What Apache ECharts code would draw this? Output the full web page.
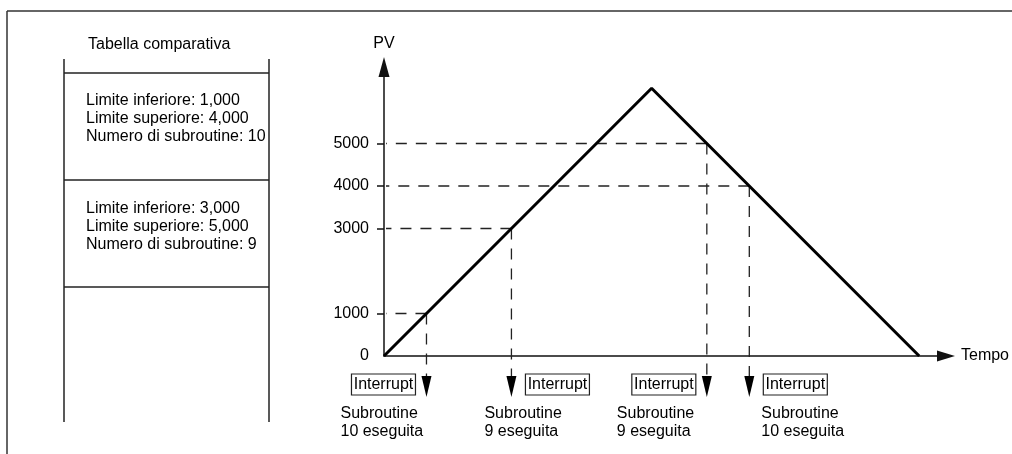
<!DOCTYPE html>
<html>
<head>
<meta charset="utf-8">
<script src="https://cdn.jsdelivr.net/npm/echarts@6/dist/echarts.min.js"></script>
<style>
  html, body { margin: 0; padding: 0; background: #fff; }
  #chart { width: 1012px; height: 454px; }
</style>
</head>
<body>
<div id="chart"></div>
<script>
// PV ramp: rises linearly, then falls back to zero
const rampTime = [0, 50, 100];
const rampPV = [0, 6300, 0];

// PV axis tick values
const pvTicks = [0, 1000, 3000, 4000, 5000];

// Comparison table rows
const lowerLimits = [1000, 3000];
const upperLimits = [4000, 5000];
const subroutineNumbers = [10, 9];

// Interrupt events: PV level crossed, ramp segment (0 rising, 1 falling), subroutine run
const eventPV = [1000, 3000, 5000, 4000];
const eventSegment = [0, 0, 1, 1];
const eventSubroutine = [10, 9, 9, 10];

const FONT = '"Liberation Sans", Arial, Helvetica, sans-serif';
const INK = '#000';

// time at which a ramp segment reaches a given PV
function crossingTime(pv, seg) {
  const t0 = rampTime[seg], t1 = rampTime[seg + 1];
  const v0 = rampPV[seg], v1 = rampPV[seg + 1];
  return t0 + (pv - v0) / (v1 - v0) * (t1 - t0);
}

const fmt = v => v.toLocaleString('en-US');

// label layout for the interrupt notes
const boxSide = ['left', 'right', 'left', 'right'];
const noteShift = [-86, -27, -90, 12];
const BOX_W = 64, BOX_H = 21;

const eventData = eventPV.map((pv, i) => [crossingTime(pv, eventSegment[i]), pv, i]);
const rampData = rampTime.map((t, i) => [t, rampPV[i]]);

// comparison table drawn beside the chart
const tableGraphics = [];
const tL = 64, tR = 269;
tableGraphics.push({ type: 'line', shape: { x1: 7, y1: 11, x2: 1012, y2: 11 }, style: { stroke: '#333', lineWidth: 1.5 } });
tableGraphics.push({ type: 'line', shape: { x1: 7, y1: 11, x2: 7, y2: 454 }, style: { stroke: '#333', lineWidth: 1.5 } });
tableGraphics.push({ type: 'text', x: 88, y: 45, style: { text: 'Tabella comparativa', fontSize: 16, fontFamily: FONT, fill: INK, verticalAlign: 'middle' } });
[tL, tR].forEach(x => tableGraphics.push({ type: 'line', shape: { x1: x, y1: 59, x2: x, y2: 422 }, style: { stroke: '#222', lineWidth: 1.5 } }));
[73, 180, 287].forEach(y => tableGraphics.push({ type: 'line', shape: { x1: tL, y1: y, x2: tR, y2: y }, style: { stroke: '#222', lineWidth: 1.5 } }));
lowerLimits.forEach((lo, i) => {
  const lines = [
    'Limite inferiore: ' + fmt(lo),
    'Limite superiore: ' + fmt(upperLimits[i]),
    'Numero di subroutine: ' + subroutineNumbers[i]
  ];
  tableGraphics.push({
    type: 'text', x: 86, y: 92 + i * 108,
    style: { text: lines.join('\n'), fontSize: 16, lineHeight: 18, fontFamily: FONT, fill: INK, verticalAlign: 'top' }
  });
});

function renderEvent(params, api) {
  const t = api.value(0), pv = api.value(1), i = api.value(2);
  const p = api.coord([t, pv]);
  const axisPt = api.coord([0, pv]);
  const base = api.coord([t, 0]);
  const x = p[0];
  const arrowTop = base[1] + 20, arrowTip = base[1] + 41;
  const dash = { stroke: '#222', lineWidth: 1.3, lineDash: [11, 9] };
  const boxX = boxSide[i] === 'left' ? x - 11 - BOX_W : x + 14;
  const boxY = base[1] + 18;
  return {
    type: 'group',
    children: [
      { type: 'line', shape: { x1: x, y1: p[1], x2: axisPt[0] + 2, y2: p[1] }, style: dash },
      { type: 'line', shape: { x1: x, y1: p[1], x2: x, y2: arrowTop }, style: dash },
      { type: 'polygon', shape: { points: [[x - 5, arrowTop], [x + 5, arrowTop], [x, arrowTip]] }, style: { fill: INK } },
      { type: 'rect', shape: { x: boxX, y: boxY, width: BOX_W, height: BOX_H }, style: { fill: '#fff', stroke: '#222', lineWidth: 1.2 } },
      { type: 'text', x: boxX + BOX_W / 2, y: boxY + BOX_H / 2 + 0.5, style: { text: 'Interrupt', fontSize: 16, fontFamily: FONT, fill: INK, align: 'center', verticalAlign: 'middle' } },
      { type: 'text', x: x + noteShift[i], y: base[1] + 49, style: { text: 'Subroutine\n' + eventSubroutine[i] + ' eseguita', fontSize: 16, lineHeight: 18, fontFamily: FONT, fill: INK, verticalAlign: 'top' } }
    ]
  };
}

const chart = echarts.init(document.getElementById('chart'), null, { renderer: 'canvas' });
chart.setOption({
  animation: false,
  backgroundColor: '#fff',
  grid: { left: 384, right: 64, top: 67, bottom: 98, containLabel: false },
  xAxis: {
    type: 'value', min: 0, max: 105,
    name: 'Tempo', nameLocation: 'end', nameGap: 15,
    nameTextStyle: { fontSize: 16, fontFamily: FONT, color: INK },
    axisLine: { show: true, symbol: ['none', 'triangle'], symbolSize: [11, 18], lineStyle: { color: '#111', width: 1.5 } },
    axisTick: { show: false }, axisLabel: { show: false }, splitLine: { show: false }
  },
  yAxis: {
    type: 'value', min: 0, max: 6800,
    name: 'PV', nameLocation: 'end', nameGap: 15,
    nameTextStyle: { fontSize: 16, fontFamily: FONT, color: INK },
    axisLine: { show: true, symbol: ['none', 'triangle'], symbolSize: [11, 20], lineStyle: { color: '#111', width: 1.5 } },
    axisTick: { show: true, inside: false, length: 7, customValues: pvTicks.slice(1), lineStyle: { color: '#111', width: 1.5 } },
    axisLabel: { show: true, customValues: pvTicks, margin: 15, fontSize: 16, fontFamily: FONT, color: INK, formatter: v => String(v) },
    splitLine: { show: false }
  },
  graphic: tableGraphics,
  series: [
    {
      type: 'custom', coordinateSystem: 'cartesian2d', renderItem: renderEvent,
      data: eventData, clip: false, z: 2, silent: true
    },
    {
      type: 'line', data: rampData, showSymbol: false, symbol: 'none',
      lineStyle: { color: INK, width: 3 }, z: 3, silent: true
    }
  ]
});
</script>
</body>
</html>
